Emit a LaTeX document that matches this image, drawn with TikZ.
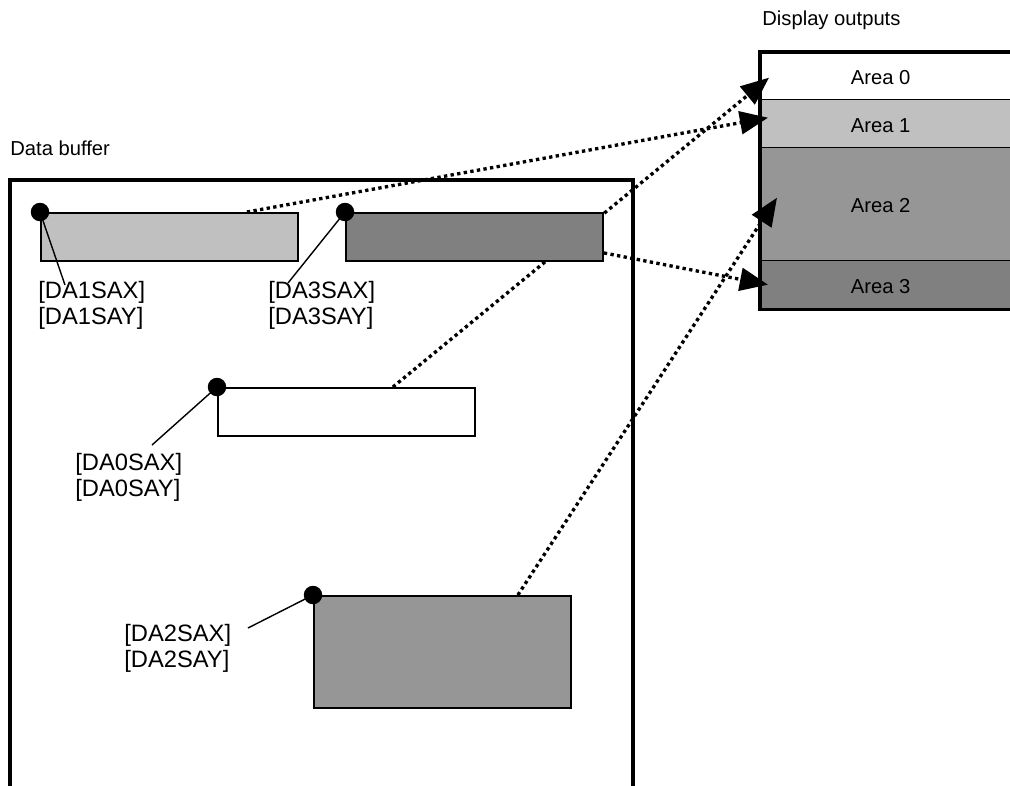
\documentclass[tikz,border=0pt]{standalone}
\usepackage{fontspec}
\setmainfont{Liberation Sans}
\usepackage{xcolor}
\usetikzlibrary{arrows.meta,positioning,calc,backgrounds}
\definecolor{lightgrey}{HTML}{C0C0C0}
\definecolor{midgrey}{HTML}{969696}
\definecolor{darkgrey}{HTML}{808080}

\begin{document}
\begin{tikzpicture}[
    x=0.02cm, y=-0.02cm,
    font=\fontsize{11.5}{14}\selectfont,
    region/.style={rectangle, draw, line width=1.1pt, anchor=north west, minimum width=5.14cm, inner sep=0pt},
    area/.style={rectangle, draw, line width=0.8pt, anchor=north west, minimum width=5.2cm, inner sep=0pt},
    origin/.style={circle, fill=black, inner sep=0pt, minimum size=0.37cm},
    regname/.style={align=left, anchor=base west, inner sep=0pt, font=\fontsize{13.5}{14.8}\selectfont},
    leader/.style={line width=0.8pt},
    mapping/.style={-{Triangle[length=16pt,width=13pt]}, line width=1.9pt, dash pattern=on 1.9pt off 1.9pt}
]
\useasboundingbox (0,0) rectangle (1010,785);

% titles
\node[anchor=west, inner sep=0pt] (buftitle) at (10,148) {Data buffer};
\node[anchor=west, inner sep=0pt] (outtitle) at (762,20) {Display outputs};

% display outputs
\node[area, minimum height=0.94cm] (area0) at (760,52) {};
\node[area, minimum height=0.96cm, fill=lightgrey] (area1) at (760,99) {};
\node[area, minimum height=2.26cm, fill=midgrey] (area2) at (760,147) {};
\node[area, minimum height=0.96cm, fill=darkgrey] (area3) at (760,260) {};
\foreach \a in {0,...,3}
    \node (area\a txt) at ([xshift=-0.2cm,yshift=-0.03cm]area\a.center) {Area \a};
\draw[line width=2pt] (area0.north east) -| (area3.south west) -- (area3.south east);

% data buffer
\draw[line width=2pt] (10,790) |- (633,180) -- (633,790);

\node[region, minimum height=0.96cm, fill=lightgrey] (da1) at (40,212) {};
\node[region, minimum height=0.96cm, fill=darkgrey] (da3) at (345,212) {};
\node[region, minimum height=0.96cm, fill=white] (da0) at (217,387) {};
\node[region, minimum height=2.24cm, fill=midgrey] (da2) at (313,595) {};

% mappings
\begin{scope}[on background layer]
\draw[mapping] ([xshift=-1.66cm]da0.north east) -- ([xshift=0.18cm,yshift=-0.03cm]area0.west);
\end{scope}
\draw[mapping] ([xshift=-1.04cm]da1.north east) -- ([xshift=0.16cm,yshift=0.12cm]area1.west);
\draw[mapping] ([yshift=-0.32cm]da3.east) -- ([xshift=0.16cm]area3.west);
\draw[mapping] ([xshift=-1.08cm]da2.north east) -- ([xshift=0.34cm,yshift=0.13cm]area2.west);

% start addresses (base = second line)
\node[regname] (sa1) at (38,324) {{[DA1SAX]}\\{[DA1SAY]}};
\node[regname] (sa3) at (268,324) {{[DA3SAX]}\\{[DA3SAY]}};
\node[regname] (sa0) at (75,496) {{[DA0SAX]}\\{[DA0SAY]}};
\node[regname] (sa2) at (124,667) {{[DA2SAX]}\\{[DA2SAY]}};

\coordinate (end1) at (65,285);
\coordinate (end3) at (288,283);
\coordinate (end0) at (152,445);
\coordinate (end2) at (248,628);

\foreach \r in {1,3,0,2} {
    \draw[leader] (da\r.north west) -- (end\r);
    \node[origin] (dot\r) at (da\r.north west) {};
}

\end{tikzpicture}
\end{document}
